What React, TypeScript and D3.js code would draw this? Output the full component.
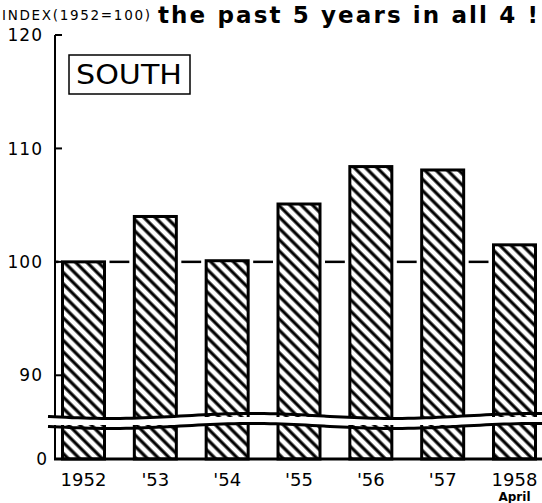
import React from "react";
import * as d3 from "d3";

// values (index, 1952 = 100)
const years = ["1952", "'53", "'54", "'55", "'56", "'57", "1958"];
const index = [100, 104, 100.1, 105.1, 108.4, 108.1, 101.5];
const tickValues = [0, 90, 100, 110, 120];

const W = 542,
  H = 503;

export default function App() {
  // bar centres, fixed bar width
  const x = d3.scalePoint().domain(years).range([83.5, 514.5]);
  const bw = 42;
  // broken axis: 0 at the bottom, then 85..120 stretched above the break
  const y = d3.scaleLinear().domain([0, 85, 120]).range([459, 432, 35]);

  const font = "'DejaVu Sans', sans-serif";
  const axisX = 55;

  // wavy break lines
  const wave = (base: number) =>
    d3
      .line<number>()
      .x((d) => d)
      .y((d) => base + 2.5 * Math.sin((d - 40) / 45))
      .curve(d3.curveBasis)(d3.range(48, W + 10, 6));

  const gaps = years.slice(0, -1).map((yr, i) => [
    (x(yr) as number) + bw / 2 + 5,
    (x(years[i + 1]) as number) - bw / 2 - 5,
  ]);

  return (
    <svg
      width={W}
      height={H}
      style={{ position: "absolute", left: 0, top: 0, background: "#fff" }}
    >
      <defs>
        <pattern
          id="hatch"
          width={8}
          height={8}
          patternUnits="userSpaceOnUse"
          patternTransform="rotate(-45)"
        >
          <rect width={8} height={8} fill="#fff" />
          <line x1={4} y1={0} x2={4} y2={8} stroke="#000" strokeWidth={3.2} />
        </pattern>
      </defs>

      {/* titles */}
      <text x={2} y={20} fontFamily={font} fontSize={13.5} fill="#000" textLength={148} lengthAdjust="spacing">
        INDEX(1952=100)
      </text>
      <text
        x={158}
        y={23}
        fontFamily={font}
        fontSize={23}
        fontWeight="bold"
        fill="#000"
        textLength={380}
        lengthAdjust="spacing"
      >
        the past 5 years in all 4 !
      </text>

      {/* y axis */}
      <line x1={axisX} x2={axisX} y1={y(120)} y2={y(0)} stroke="#000" strokeWidth={2} />
      {tickValues.map((t) => (
        <g key={t}>
          {t !== 0 && (
            <line x1={axisX} x2={axisX + 7} y1={y(t)} y2={y(t)} stroke="#000" strokeWidth={2} />
          )}
          <text
            x={t === 0 ? 48 : 43}
            y={y(t)}
            dy="0.36em"
            textAnchor="end"
            fontFamily={font}
            fontSize={17}
            letterSpacing={1}
            fill="#000"
          >
            {t}
          </text>
        </g>
      ))}

      {/* reference line at 100 in the gaps */}
      <line x1={axisX} x2={(x(years[0]) as number) - bw / 2 - 4} y1={y(100)} y2={y(100)} stroke="#000" strokeWidth={2.5} />
      {gaps.map(([a, b], i) => (
        <line key={i} x1={a} x2={b} y1={y(100)} y2={y(100)} stroke="#000" strokeWidth={2.5} />
      ))}

      {/* bars */}
      {years.map((yr, i) => (
        <rect
          key={yr}
          x={(x(yr) as number) - bw / 2}
          y={y(index[i])}
          width={bw}
          height={y(0) - y(index[i])}
          fill="url(#hatch)"
          stroke="#000"
          strokeWidth={3}
        />
      ))}

      {/* baseline */}
      <line x1={axisX - 1} x2={W} y1={y(0)} y2={y(0)} stroke="#000" strokeWidth={3} />

      {/* axis break */}
      <rect x={44} y={417} width={W} height={8} fill="#fff" />
      <path d={wave(416) as string} fill="none" stroke="#000" strokeWidth={3} />
      <path d={wave(426) as string} fill="none" stroke="#000" strokeWidth={3} />

      {/* x labels */}
      {years.map((yr) => (
        <text
          key={yr}
          x={x(yr) as number}
          y={486}
          textAnchor="middle"
          fontFamily={font}
          fontSize={18}
          fill="#000"
        >
          {yr}
        </text>
      ))}
      <text
        x={x("1958") as number}
        y={501}
        textAnchor="middle"
        fontFamily={font}
        fontSize={12}
        fontWeight="bold"
        fill="#000"
      >
        April
      </text>

      {/* region label */}
      <rect x={69} y={55} width={121} height={39} fill="#fff" stroke="#000" strokeWidth={1.5} />
      <text
        x={76}
        y={84}
        fontFamily={font}
        fontSize={26}
        fill="#000"
        textLength={106}
        lengthAdjust="spacingAndGlyphs"
      >
        SOUTH
      </text>
    </svg>
  );
}
